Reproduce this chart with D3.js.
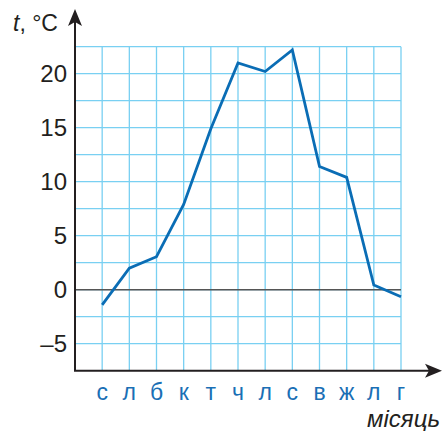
<!DOCTYPE html>
<html>
<head>
<meta charset="utf-8">
<script src="https://cdn.jsdelivr.net/npm/d3@7"></script>
<style>
  body { margin: 0; background: #fff; }
  svg { display: block; font-family: "Liberation Sans", Arial, sans-serif; }
</style>
</head>
<body>
<svg id="chart" width="445" height="431"></svg>
<script>
// months (Ukrainian initials) and average temperature
var months = ["с", "л", "б", "к", "т", "ч", "л", "с", "в", "ж", "л", "г"];
var temps = [-1.4, 2, 3.05, 7.9, 14.9, 21, 20.2, 22.2, 11.4, 10.4, 0.43, -0.65];
var yTicks = [-5, 0, 5, 10, 15, 20];

var svg = d3.select("#chart");

var dims = { left: 75, right: 401, top: 46.7, bottom: 370.7 };

// x: month index 0 sits on the y axis, months at 1..12
var xScale = d3.scaleLinear().domain([0, 12]).range([dims.left, dims.right]);
var yScale = d3.scaleLinear().domain([-7.5, 22.5]).range([dims.bottom, dims.top]);

// grid
var grid = svg.append("g").attr("stroke", "#79d0f2").attr("stroke-width", 1.3);
grid.selectAll("line.v")
  .data(d3.range(1, 13))
  .enter()
  .append("line")
  .attr("x1", (d) => xScale(d))
  .attr("x2", (d) => xScale(d))
  .attr("y1", dims.top)
  .attr("y2", dims.bottom);
grid.selectAll("line.h")
  .data(d3.range(-5, 22.6, 2.5))
  .enter()
  .append("line")
  .attr("x1", dims.left)
  .attr("x2", dims.right)
  .attr("y1", (d) => yScale(d))
  .attr("y2", (d) => yScale(d));

// zero line
svg.append("line")
  .attr("x1", dims.left)
  .attr("x2", dims.right)
  .attr("y1", yScale(0))
  .attr("y2", yScale(0))
  .attr("stroke", "#555")
  .attr("stroke-width", 1.5);

// axes with arrows
svg.append("line")
  .attr("x1", dims.left)
  .attr("x2", dims.left)
  .attr("y1", dims.bottom)
  .attr("y2", 20)
  .attr("stroke", "#231f20")
  .attr("stroke-width", 2);
svg.append("path")
  .attr("d", "M" + dims.left + ",9 l-7,17 l7,-4 l7,4 Z")
  .attr("fill", "#231f20");

svg.append("line")
  .attr("x1", dims.left - 1)
  .attr("x2", 436)
  .attr("y1", dims.bottom)
  .attr("y2", dims.bottom)
  .attr("stroke", "#231f20")
  .attr("stroke-width", 2);
svg.append("path")
  .attr("d", "M442," + dims.bottom + " l-17,-7 l4,7 l-4,7 Z")
  .attr("fill", "#231f20");

// y tick labels
svg.selectAll("text.ytick")
  .data(yTicks)
  .enter()
  .append("text")
  .attr("class", "ytick")
  .attr("x", 67)
  .attr("y", (d) => yScale(d) + 8.5)
  .attr("text-anchor", "end")
  .attr("font-size", 24)
  .attr("fill", "#231f20")
  .text((d) => (d < 0 ? "\u2013" + Math.abs(d) : d));

// month labels
svg.selectAll("text.month")
  .data(months)
  .enter()
  .append("text")
  .attr("class", "month")
  .attr("x", (d, i) => xScale(i + 1))
  .attr("y", 400)
  .attr("text-anchor", "middle")
  .attr("font-size", 23)
  .attr("fill", "#1a6fb5")
  .text((d) => d);

// axis titles
var yTitle = svg.append("text")
  .attr("x", 13)
  .attr("y", 31)
  .attr("font-size", 23)
  .attr("fill", "#231f20");
yTitle.append("tspan").attr("font-style", "italic").text("t");
yTitle.append("tspan").text(", °C");

svg.append("text")
  .attr("x", 440)
  .attr("y", 427)
  .attr("text-anchor", "end")
  .attr("font-size", 24)
  .attr("font-style", "italic")
  .attr("fill", "#231f20")
  .text("місяць");

// temperature line
var line = d3.line()
  .x((d, i) => xScale(i + 1))
  .y((d) => yScale(d));

svg.append("path")
  .datum(temps)
  .attr("d", line)
  .attr("fill", "none")
  .attr("stroke", "#0a6db5")
  .attr("stroke-width", 2.8)
  .attr("stroke-linejoin", "miter");
</script>
</body>
</html>
